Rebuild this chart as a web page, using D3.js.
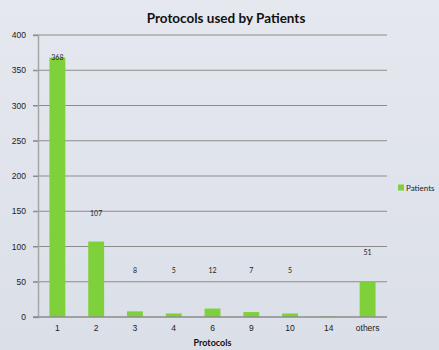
<!DOCTYPE html>
<html>
<head>
<meta charset="utf-8">
<script src="https://cdn.jsdelivr.net/npm/d3@7/dist/d3.min.js"></script>
<style>
  html, body { margin: 0; padding: 0; }
  body { width: 439px; height: 350px; overflow: hidden; }
  svg { display: block; font-family: "Lato", "Open Sans", sans-serif; }
</style>
</head>
<body>
<svg id="chart" width="439" height="350"></svg>
<script>
// Protocol categories and the number of patients on each
const categories = ["1", "2", "3", "4", "6", "9", "10", "14", "others"];
const patients = [368, 107, 8, 5, 12, 7, 5, 1, 51];
const valueLabels = ["368", "107", "8", "5", "12", "7", "5", "", "51"];
const yTicks = [0, 50, 100, 150, 200, 250, 300, 350, 400];
const seriesName = "Patients";

const W = 439, H = 350;
const margin = { top: 35, right: 52, bottom: 33, left: 38 };
const svg = d3.select("#chart");

// soft background
const defs = svg.append("defs");
const grad = defs.append("linearGradient").attr("id", "bg").attr("x1", 0).attr("y1", 0).attr("x2", 0).attr("y2", 1);
grad.append("stop").attr("offset", "0%").attr("stop-color", "#e5e8ef");
grad.append("stop").attr("offset", "100%").attr("stop-color", "#dbdfe8");
svg.append("rect").attr("width", W).attr("height", H).attr("fill", "url(#bg)");

const x = d3.scaleBand().domain(categories).range([margin.left, W - margin.right]).paddingInner(0.59).paddingOuter(0.295);
const y = d3.scaleLinear().domain([0, 400]).range([H - margin.bottom, margin.top]);

// gridlines
svg.append("g")
  .selectAll("line").data(yTicks.filter(d => d > 0)).join("line")
  .attr("x1", margin.left - 5).attr("x2", W - margin.right)
  .attr("y1", d => y(d)).attr("y2", d => y(d))
  .attr("stroke", "#8c8c8c").attr("stroke-width", 1);

// y axis
const yAxis = svg.append("g").attr("transform", `translate(${margin.left},0)`)
  .call(d3.axisLeft(y).tickValues(yTicks).tickSize(5).tickPadding(7));
yAxis.select(".domain").attr("stroke", "#a6a6a6").attr("stroke-width", 1.5);
yAxis.selectAll(".tick line").attr("stroke", "#8c8c8c");
yAxis.selectAll("text").attr("font-size", 8.5).attr("fill", "#222");

// bars
svg.append("g").selectAll("rect").data(categories).join("rect")
  .attr("x", d => x(d))
  .attr("width", x.bandwidth())
  .attr("y", (d, i) => y(patients[i]))
  .attr("height", (d, i) => y(0) - y(patients[i]))
  .attr("fill", "#7fd13b");

// x axis
const xAxis = svg.append("g").attr("transform", `translate(0,${y(0)})`)
  .call(d3.axisBottom(x).tickSize(0).tickPadding(8));
xAxis.select(".domain").attr("stroke", "#8c8c8c").attr("stroke-width", 1.5)
  .attr("d", `M${margin.left - 5},0H${W - margin.right}`);
xAxis.selectAll("text").attr("font-size", 8.5).attr("fill", "#222");

// data labels, lifted clear of the short bars
svg.append("g").selectAll("text").data(categories).join("text")
  .attr("x", d => x(d) + x.bandwidth() / 2)
  .attr("y", (d, i) => Math.max(margin.top + 25, Math.min(y(patients[i]) - 26, y(62))))
  .attr("text-anchor", "middle")
  .attr("font-size", 7).attr("fill", "#222")
  .text((d, i) => valueLabels[i]);

// title
svg.append("text").attr("x", 226).attr("y", 23).attr("text-anchor", "middle")
  .attr("font-size", 13.5).attr("font-weight", "bold").attr("fill", "#111")
  .text("Protocols used by Patients");

// x axis title
svg.append("text").attr("x", x("6") + x.bandwidth() / 2).attr("y", 346).attr("text-anchor", "middle")
  .attr("font-size", 9).attr("font-weight", "bold").attr("fill", "#111")
  .text("Protocols");

// legend
const lg = svg.append("g").attr("transform", "translate(398,188)");
lg.append("rect").attr("x", 0).attr("y", -3.5).attr("width", 6).attr("height", 6).attr("fill", "#7fd13b");
lg.append("text").attr("x", 8).attr("y", 0).attr("dy", "0.35em").attr("font-size", 8).attr("fill", "#222").text(seriesName);
</script>
</body>
</html>
